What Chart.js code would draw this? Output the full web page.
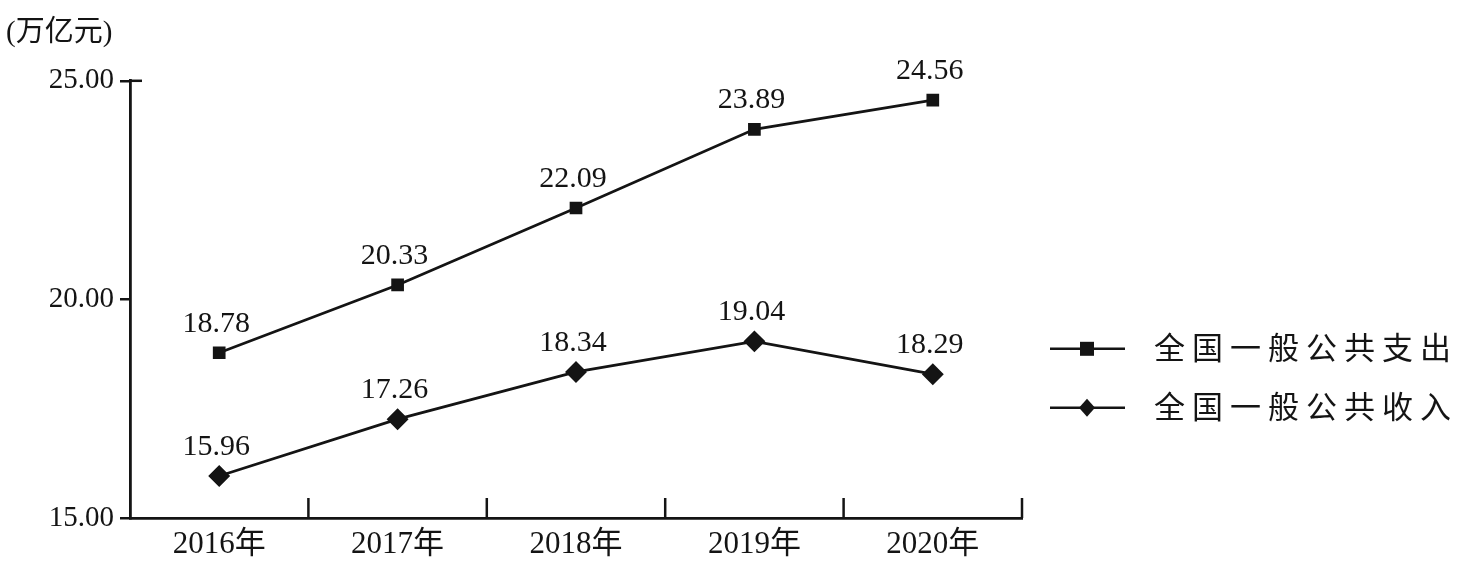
<!DOCTYPE html>
<html>
<head>
<meta charset="utf-8">
<script src="https://cdn.jsdelivr.net/npm/chart.js@4/dist/chart.umd.min.js"></script>
<style>
  body { margin: 0; background: #fff; }
  #wrap { width: 1462px; height: 571px; }
</style>
</head>
<body>
<div id="wrap"><canvas id="canvas" width="1462" height="571"></canvas></div>
<script>
// data
var years = ['2016年', '2017年', '2018年', '2019年', '2020年'];
var spending = [18.78, 20.33, 22.09, 23.89, 24.56];   // 全国一般公共支出
var revenue = [15.96, 17.26, 18.34, 19.04, 18.29];    // 全国一般公共收入
var yTicks = [15, 20, 25];
var unitLabel = '(万亿元)';
var seriesNames = ['全国一般公共支出', '全国一般公共收入'];

var ink = '#141414';
var serif = '"Liberation Serif", "DejaVu Serif", "Noto Sans CJK SC", serif';

// value labels above every point
var valueLabels = {
    id: 'valueLabels',
    afterDatasetsDraw: function(chart) {
        var ctx = chart.ctx;
        ctx.save();
        ctx.font = '30px ' + serif;
        ctx.fillStyle = ink;
        ctx.textAlign = 'center';
        ctx.textBaseline = 'bottom';
        chart.data.datasets.forEach(function(ds, i) {
            var meta = chart.getDatasetMeta(i);
            meta.data.forEach(function(pt, j) {
                ctx.fillText(ds.data[j].toFixed(2), pt.x - 3, pt.y - 14);
            });
        });
        ctx.restore();
    }
};

// upward tick marks on the category boundaries of the x axis
var xTicksUp = {
    id: 'xTicksUp',
    afterDraw: function(chart) {
        var a = chart.chartArea, ctx = chart.ctx;
        var n = years.length, step = (a.right - a.left) / n;
        ctx.save();
        ctx.strokeStyle = ink;
        ctx.lineWidth = 2.5;
        for (var i = 1; i <= n; i++) {
            var x = a.left + i * step;
            ctx.beginPath();
            ctx.moveTo(x, a.bottom);
            ctx.lineTo(x, a.bottom - 20);
            ctx.stroke();
        }
        // short stub at the top of the y axis
        ctx.beginPath();
        ctx.moveTo(a.left, a.top);
        ctx.lineTo(a.left + 12, a.top);
        ctx.stroke();
        ctx.restore();
    }
};

// legend on the right: line - marker - line, then name
var sideLegend = {
    id: 'sideLegend',
    afterDraw: function(chart) {
        var a = chart.chartArea, ctx = chart.ctx;
        var x0 = a.right + 28;
        var rows = [a.top + 268, a.top + 327];
        ctx.save();
        ctx.strokeStyle = ink;
        ctx.fillStyle = ink;
        ctx.lineWidth = 2.5;
        rows.forEach(function(y, i) {
            ctx.beginPath();
            ctx.moveTo(x0, y);
            ctx.lineTo(x0 + 75, y);
            ctx.stroke();
            var cx = x0 + 37;
            if (i === 0) {
                ctx.fillRect(cx - 7, y - 7, 14, 14);
            } else {
                ctx.beginPath();
                ctx.moveTo(cx, y - 9);
                ctx.lineTo(cx + 8, y);
                ctx.lineTo(cx, y + 9);
                ctx.lineTo(cx - 8, y);
                ctx.closePath();
                ctx.fill();
            }
            ctx.font = '31px "Noto Sans CJK SC", sans-serif';
            ctx.textBaseline = 'middle';
            ctx.textAlign = 'left';
            var chars = seriesNames[i].split('');
            for (var k = 0; k < chars.length; k++) {
                ctx.fillText(chars[k], x0 + 104 + k * 38, y - 2);
            }
        });
        ctx.restore();
    }
};

var config = {
    type: 'line',
    data: {
        labels: years,
        datasets: [{
                label: seriesNames[0],
                data: spending,
                borderColor: ink,
                backgroundColor: ink,
                borderWidth: 2.8,
                pointStyle: 'rect',
                pointRadius: 7,
                pointHoverRadius: 7,
                tension: 0,
                fill: false
            },
            {
                label: seriesNames[1],
                data: revenue,
                borderColor: ink,
                backgroundColor: ink,
                borderWidth: 2.8,
                pointStyle: 'rectRot',
                pointRadius: 9,
                pointHoverRadius: 9,
                tension: 0,
                fill: false
            }
        ]
    },
    options: {
        responsive: false,
        animation: false,
        layout: { padding: { left: 6, right: 440, top: 0, bottom: 0 } },
        plugins: {
            legend: { display: false },
            tooltip: { enabled: false },
            title: {
                display: true,
                text: unitLabel,
                align: 'start',
                color: ink,
                font: { size: 29, family: serif, weight: 'normal' },
                padding: { top: 16, bottom: 30 }
            }
        },
        scales: {
            x: {
                offset: true,
                afterFit: function(scale) { scale.height = 53; },
                grid: { display: true, drawOnChartArea: false, drawTicks: false },
                border: { display: true, color: ink, width: 2.8 },
                ticks: {
                    color: ink,
                    padding: 8,
                    font: { size: 31, family: serif }
                }
            },
            y: {
                min: yTicks[0],
                max: yTicks[yTicks.length - 1],
                afterFit: function(scale) { scale.width = 124; },
                afterBuildTicks: function(scale) {
                    scale.ticks = yTicks.map(function(v) { return { value: v }; });
                },
                grid: { drawOnChartArea: false, drawTicks: true, tickLength: 10, color: ink, lineWidth: 2.5 },
                border: { display: true, color: ink, width: 2.8 },
                ticks: {
                    color: ink,
                    padding: 6,
                    font: { size: 29, family: serif },
                    callback: function(v) { return Number(v).toFixed(2); }
                }
            }
        }
    },
    plugins: [valueLabels, xTicksUp, sideLegend]
};

window.addEventListener('load', function() {
    var ctx = document.getElementById('canvas').getContext('2d');
    window.LineChart = new Chart(ctx, config);
});
</script>
</body>
</html>
